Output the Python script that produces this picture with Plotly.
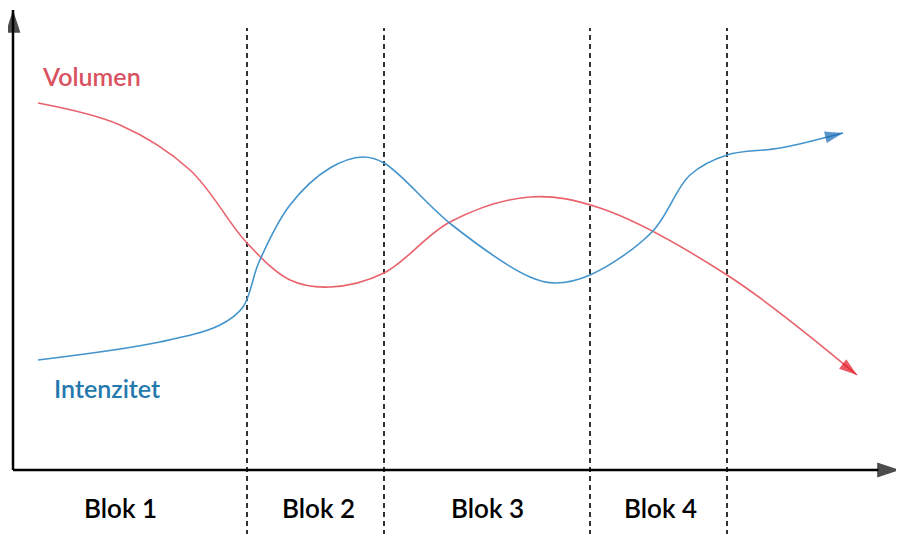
import plotly.graph_objects as go

# Schematic units: x across the figure, y upward
vol_x = [38, 120, 190, 247, 290, 330, 384, 450, 530, 600, 727, 857]
vol_y = [431, 409, 364, 291, 254, 247, 261, 312, 337, 326, 259, 159]

int_x = [38, 160, 220, 243, 259, 290, 330, 363, 384, 452, 530, 555, 590, 652, 690, 727, 780, 843]
int_y = [174, 192, 209, 227, 272, 329, 366, 377, 371, 309, 257, 251, 259, 302, 359, 379, 386, 401]

block_bounds = [247, 384, 590, 727]
block_labels = ["Blok 1", "Blok 2", "Blok 3", "Blok 4"]
block_centers = [120, 318, 487, 660]

fig = go.Figure()

def arrow_sizes(n, s):
    return [0] * (n - 1) + [s]

fig.add_trace(go.Scatter(
    x=vol_x, y=vol_y, mode="lines+markers",
    line=dict(color="#e8626c", width=1.6, shape="spline", smoothing=1.0),
    marker=dict(symbol="arrow", angleref="previous", size=arrow_sizes(len(vol_x), 19),
                color="#e3121f", line=dict(width=0)),
    hoverinfo="skip", showlegend=False))

fig.add_trace(go.Scatter(
    x=int_x, y=int_y, mode="lines+markers",
    line=dict(color="#4394cc", width=1.6, shape="spline", smoothing=1.0),
    marker=dict(symbol="arrow", angleref="previous", size=arrow_sizes(len(int_x), 19),
                color="#1669b8", line=dict(width=0)),
    hoverinfo="skip", showlegend=False))

# axes with arrows
fig.add_trace(go.Scatter(x=[13, 13], y=[64, 524], mode="lines+markers",
    line=dict(color="black", width=2.5),
    marker=dict(symbol="arrow", angleref="previous", size=[0, 24], color="black",
                line=dict(width=0)),
    hoverinfo="skip", showlegend=False))
fig.add_trace(go.Scatter(x=[13, 900], y=[64, 64], mode="lines+markers",
    line=dict(color="black", width=2.5),
    marker=dict(symbol="arrow", angleref="previous", size=[0, 24], color="black",
                line=dict(width=0)),
    hoverinfo="skip", showlegend=False))

for b in block_bounds:
    fig.add_shape(type="line", x0=b, x1=b, y0=-10, y1=506, xref="x", yref="y",
                  line=dict(color="#333333", width=2, dash="5px,4px"), layer="below")

for lab, cx in zip(block_labels, block_centers):
    fig.add_annotation(x=cx, y=26, text=lab, showarrow=False, xanchor="center", yanchor="middle",
                       font=dict(family="Lato", size=26, color="black", weight=600))

fig.add_annotation(x=40, y=458, text="Volumen", showarrow=False, xanchor="left", yanchor="middle",
                   font=dict(family="Lato", size=25, color="#d9525f", weight=600))
fig.add_annotation(x=52, y=146, text="Intenzitet", showarrow=False, xanchor="left", yanchor="middle",
                   font=dict(family="Lato", size=25, color="#2479ad", weight=600))

# the page body is offset by 8px, so shift the ranges to compensate
fig.update_layout(
    width=904, height=534, margin=dict(l=0, r=0, t=0, b=0),
    paper_bgcolor="white", plot_bgcolor="white",
    xaxis=dict(range=[8, 912], visible=False, fixedrange=True),
    yaxis=dict(range=[-8, 526], visible=False, fixedrange=True),
)

fig.write_html("out.html")
